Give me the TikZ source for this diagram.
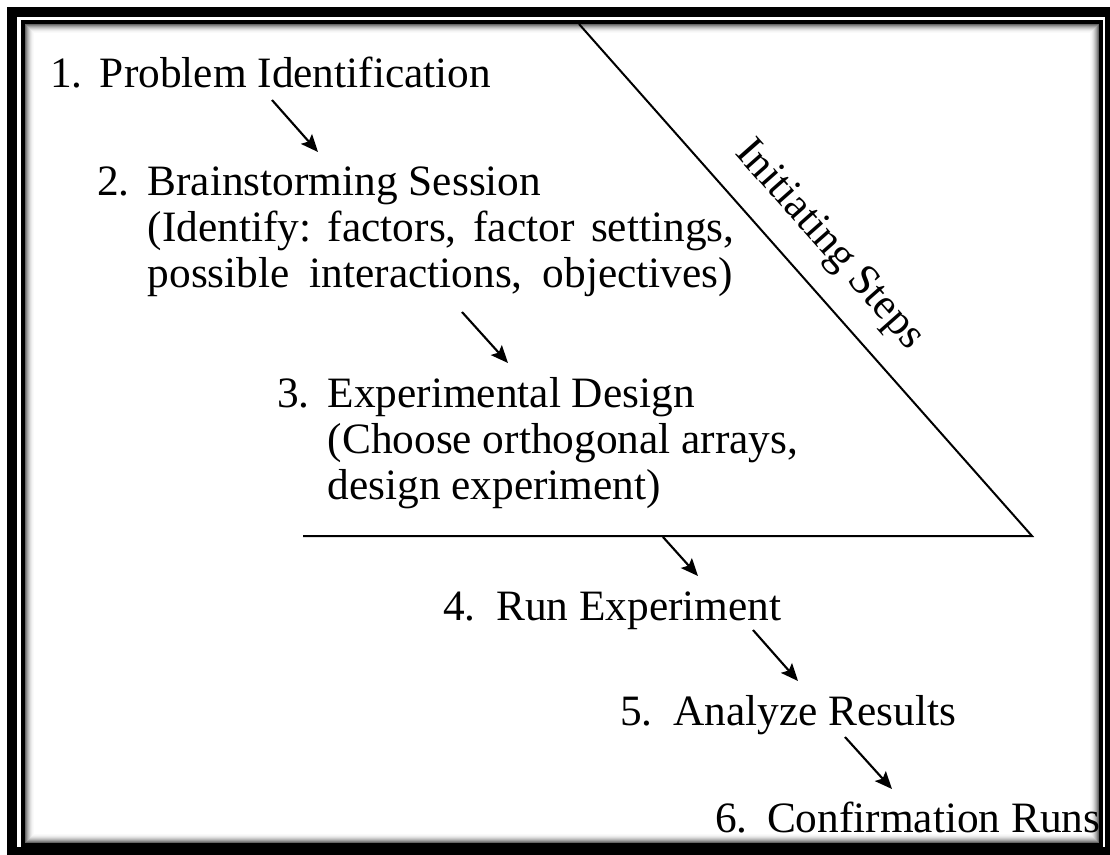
\documentclass[tikz,border=0pt]{standalone}
\usepackage{fontspec}
\setmainfont{Liberation Serif}
\usetikzlibrary{arrows.meta}
\frenchspacing
\begin{document}
\begin{tikzpicture}[x=0.75pt,y=-0.75pt,
  steptext/.style={anchor=base west,inner sep=0pt,outer sep=0pt,font=\fontsize{32.5}{34.5}\selectfont},
  flowarrow/.style={line width=1.6pt,-{Stealth[length=13pt,width=11pt,inset=2.5pt]}},
  frameline/.style={line width=1.5pt}]
\useasboundingbox (0,0) rectangle (1110,854);
\fill[white] (0,0) rectangle (1110,854);
% frame
\draw[line width=7.5pt] (12,11.5) rectangle (1109.5,852);
\draw[line width=3pt] (23,22) rectangle (1101,845);
\foreach \i/\c in {1/60,2/48,3/37,4/28,5/20,6/13,7/8,8/4,9/2}
  \draw[line width=0.8pt,black!\c] (25+\i-0.5,24+\i-0.5) rectangle (1099-\i+0.5,843-\i+0.5);
% initiating-steps triangle
\coordinate (tri top) at (579,24);
\coordinate (tri corner) at (1032,536);
\coordinate (tri left) at (303,536);
\draw[frameline,line join=miter] (tri top) -- (tri corner) -- (tri left);
\node[font=\fontsize{32.5}{34.5}\selectfont,rotate=-48.5,inner sep=0pt] (init) at (829,246) {Initiating Steps};
% steps
\node[steptext] (s1) at (50,87) {\makebox[37.5pt][l]{1.}Problem Identification};
\node[steptext] (s2) at (97,195) {\begin{tabular}[t]{@{}p{38pt}@{}l@{}}2.&Brainstorming Session\\ &\makebox[440pt][s]{(Identify: factors, factor settings,}\\ &\makebox[439pt][s]{possible interactions, objectives)}\end{tabular}};
\node[steptext] (s3) at (277,407) {\begin{tabular}[t]{@{}p{38pt}@{}l@{}}3.&Experimental Design\\ &(Choose orthogonal arrays,\\ &design experiment)\end{tabular}};
\node[steptext] (s4) at (443,620) {\makebox[40pt][l]{4.}Run Experiment};
\node[steptext] (s5) at (620,725) {\makebox[40pt][l]{5.}Analyze Results};
\node[steptext] (s6) at (715,832) {\makebox[39pt][l]{6.}Confirmation Runs};
% arrows
\coordinate (a1s) at (272,100); \coordinate (a1e) at (318,152);
\coordinate (a2s) at (462,312); \coordinate (a2e) at (508,363);
\coordinate (a3s) at (663,537); \coordinate (a3e) at (698,576);
\coordinate (a4s) at (753,630); \coordinate (a4e) at (798,681);
\coordinate (a5s) at (845,737); \coordinate (a5e) at (892,789);
\draw[flowarrow] (a1s) -- (a1e);
\draw[flowarrow] (a2s) -- (a2e);
\draw[flowarrow] (a3s) -- (a3e);
\draw[flowarrow] (a4s) -- (a4e);
\draw[flowarrow] (a5s) -- (a5e);
\end{tikzpicture}
\end{document}
